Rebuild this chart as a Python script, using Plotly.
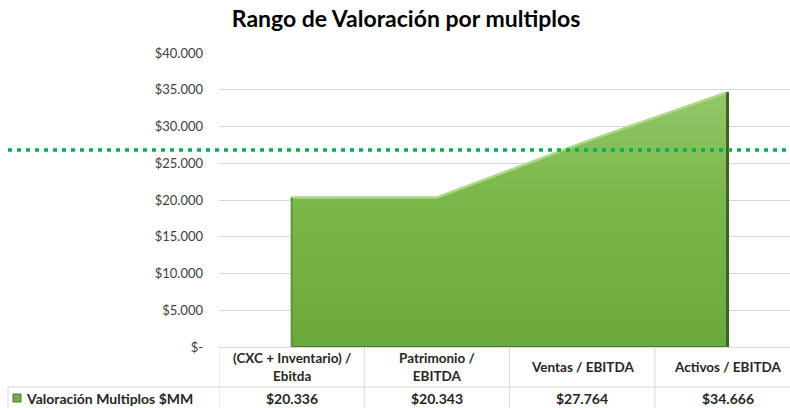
import plotly.graph_objects as go

# ---- data ----
categories = ["(CXC + Inventario) /<br>Ebitda", "Patrimonio /<br>EBITDA", "Ventas / EBITDA", "Activos / EBITDA"]
values = [20336, 20343, 27764, 34666]
series_name = "Valoración Multiplos $MM"
reference_value = 26800
y_tickvals = [0, 5000, 10000, 15000, 20000, 25000, 30000, 35000, 40000]
y_ticktext = ["$-", "$5.000", "$10.000", "$15.000", "$20.000", "$25.000", "$30.000", "$35.000", "$40.000"]
title_text = "Rango de Valoración por multiplos"

FONT = "Lato"
W, H = 790, 408
ML, MR, MT, MB = 219, 0, 53, 61
plot_h = H - MT - MB
plot_w = W - ML - MR


def px_to_paper_x(px):
    return (px - ML) / plot_w


def px_to_paper_y(py):
    return (H - MB - py) / plot_h


def fmt(v):
    return "$" + f"{v:,.0f}".replace(",", ".")


idx = list(range(len(categories)))

fig = go.Figure()

# main area
fig.add_trace(go.Scatter(
    x=idx, y=values, mode="lines", fill="tozeroy",
    line=dict(color="#6da544", width=1),
    fillgradient=dict(type="vertical",
                      colorscale=[[0, "#6aaa3d"], [0.6, "#7ab84b"], [1, "#93c76a"]]),
    showlegend=False, hoverinfo="skip",
))
# top bevel highlight
fig.add_trace(go.Scatter(
    x=idx, y=values, mode="lines",
    line=dict(color="#acd987", width=2.5),
    showlegend=False, hoverinfo="skip",
))
# right edge shadow
fig.add_trace(go.Scatter(
    x=[idx[-1], idx[-1]], y=[0, values[-1]], mode="lines",
    line=dict(color="#3e5f27", width=3),
    showlegend=False, hoverinfo="skip",
))
# bottom edge shadow
fig.add_trace(go.Scatter(
    x=[idx[0], idx[-1]], y=[0, 0], mode="lines",
    line=dict(color="#4f7a31", width=2),
    showlegend=False, hoverinfo="skip",
))
# left edge
fig.add_trace(go.Scatter(
    x=[idx[0], idx[0]], y=[0, values[0]], mode="lines",
    line=dict(color="#5f9339", width=2),
    showlegend=False, hoverinfo="skip",
))

shapes = []
# dotted reference line
shapes.append(dict(type="line", xref="paper", yref="y",
                   x0=px_to_paper_x(8), x1=1, y0=reference_value, y1=reference_value,
                   line=dict(color="#00b050", width=3.5, dash="4px,5px"), layer="above"))

grid_c = "#d9d9d9"
y_hdr_top = 0
y_row = px_to_paper_y(387)
y_bot = px_to_paper_y(409)
# vertical table lines
for i in range(len(categories)):
    shapes.append(dict(type="line", xref="x", yref="paper", x0=i - 0.5, x1=i - 0.5,
                       y0=y_bot, y1=y_hdr_top, line=dict(color=grid_c, width=1)))
shapes.append(dict(type="line", xref="x", yref="paper", x0=len(categories) - 0.5, x1=len(categories) - 0.5,
                   y0=y_bot, y1=y_hdr_top, line=dict(color=grid_c, width=1)))
# horizontal table line between header and data row
shapes.append(dict(type="line", xref="paper", yref="paper", x0=px_to_paper_x(8), x1=1.02,
                   y0=y_row, y1=y_row, line=dict(color=grid_c, width=1)))
# left border of data row
shapes.append(dict(type="line", xref="paper", yref="paper", x0=px_to_paper_x(8), x1=px_to_paper_x(8),
                   y0=y_bot, y1=y_row, line=dict(color=grid_c, width=1)))
# legend key
shapes.append(dict(type="rect", xref="paper", yref="paper",
                   x0=px_to_paper_x(13), x1=px_to_paper_x(21),
                   y0=px_to_paper_y(402), y1=px_to_paper_y(394),
                   fillcolor="#70ad47", line=dict(color="#4f7a31", width=1)))

annotations = []
for i, c in enumerate(categories):
    annotations.append(dict(x=i, y=px_to_paper_y(366.5), xref="x", yref="paper",
                            text="<b>" + c + "</b>", showarrow=False,
                            font=dict(family=FONT, size=13.5, color="#262626"),
                            yanchor="middle", xanchor="center", align="center"))
    annotations.append(dict(x=i, y=px_to_paper_y(398), xref="x", yref="paper",
                            text="<b>" + fmt(values[i]) + "</b>", showarrow=False,
                            font=dict(family=FONT, size=14, color="#262626"),
                            yanchor="middle", xanchor="center"))
annotations.append(dict(x=px_to_paper_x(24), y=px_to_paper_y(398), xref="paper", yref="paper",
                        text="<b>" + series_name + "</b>", showarrow=False,
                        font=dict(family=FONT, size=14, color="#262626"),
                        yanchor="middle", xanchor="left"))

fig.update_layout(
    width=W, height=H,
    margin=dict(l=ML, r=MR, t=MT, b=MB, autoexpand=False),
    paper_bgcolor="white", plot_bgcolor="white",
    title=dict(text="<b>" + title_text + "</b>", x=0.514, xanchor="center",
               y=1 - 19 / H, yanchor="middle",
               font=dict(family=FONT, size=23, color="#000000")),
    xaxis=dict(type="linear", range=[-0.5, -0.5 + plot_w / 145.3], showticklabels=False,
               showgrid=False, zeroline=False, showline=True, linecolor=grid_c, linewidth=1,
               fixedrange=True),
    yaxis=dict(range=[0, 40000], tickvals=y_tickvals, ticktext=y_ticktext,
               showgrid=True, gridcolor=grid_c, gridwidth=1, zeroline=False, showline=False,
               ticks="", ticklabelstandoff=15,
               tickfont=dict(family=FONT, size=13, color="#404040"), fixedrange=True),
    shapes=shapes, annotations=annotations, showlegend=False,
)

fig.write_html("out.html", config={"displayModeBar": False},
               post_script="document.body.style.margin='0';document.body.style.overflow='hidden';")
